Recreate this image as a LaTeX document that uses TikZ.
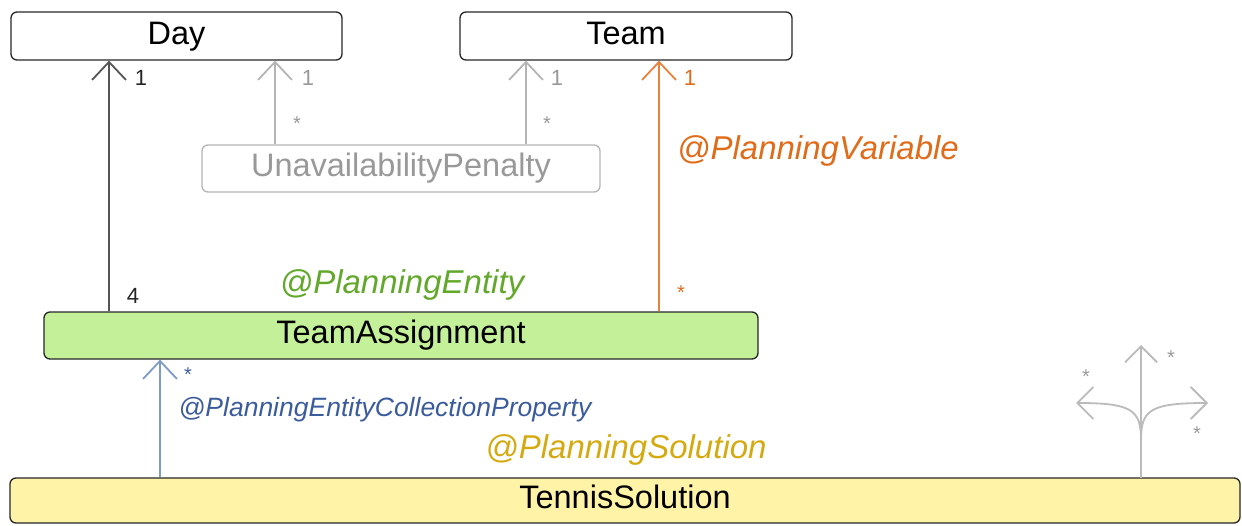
\documentclass[tikz,border=0pt]{standalone}
\usepackage{fontspec}
\setmainfont{Liberation Sans}
\usetikzlibrary{arrows.meta}
\definecolor{dayarrow}{HTML}{555555}
\definecolor{lightgr}{HTML}{B4B4B4}
\definecolor{penaltytxt}{HTML}{999999}
\definecolor{orangec}{HTML}{E8823C}
\definecolor{orangetxt}{HTML}{E06C1A}
\definecolor{greentxt}{HTML}{62A82A}
\definecolor{greenfill}{HTML}{C5F09A}
\definecolor{bluec}{HTML}{7E9CC8}
\definecolor{bluetxt}{HTML}{3B5C9C}
\definecolor{yellowtxt}{HTML}{D4AA10}
\definecolor{yellowfill}{HTML}{FFF3A8}
\definecolor{icongr}{HTML}{BBBBBB}
\tikzset{
  classbox/.style={draw=black!85, line width=1.3pt, rounded corners=6pt, inner sep=0pt,
    text height=23pt, text depth=7pt,
    font=\fontsize{32.5}{38}\selectfont},
  assoc/.style={line width=1.8pt, -{Straight Barb[length=18pt,width=34pt,line width=1.8pt]}},
  mult/.style={font=\fontsize{22}{26}\selectfont, inner sep=0pt},
  star/.style={font=\fontsize{20}{24}\selectfont, inner sep=0pt},
  annot/.style={font=\fontsize{33}{38}\selectfont\itshape, inner sep=0pt},
}
\begin{document}
\begin{tikzpicture}[x=1pt,y=-1pt]
\useasboundingbox (0,0) rectangle (1242,525);
% boxes
\node[classbox, minimum width=331pt, minimum height=48pt] (day) at (176.5,36) {Day};
\node[classbox, minimum width=332pt, minimum height=48pt] (team) at (626,36) {Team};
\node[classbox, draw=lightgr, text=penaltytxt, minimum width=398pt, minimum height=47pt] (pen) at (401,168.5) {UnavailabilityPenalty};
\node[classbox, fill=greenfill, minimum width=714pt, minimum height=47pt] (ta) at (401,335.5) {TeamAssignment};
\node[classbox, fill=yellowfill, minimum width=1230pt, minimum height=45pt] (sol) at (625,500.5) {TennisSolution};
% x positions
\coordinate (xa) at (109,0);
\coordinate (xb) at (275,0);
\coordinate (xc) at (526,0);
\coordinate (xd) at (659,0);
\coordinate (xe) at (160,0);
% arrows
\draw[assoc, draw=dayarrow] (xa |- ta.north) -- (xa |- day.south);
\draw[assoc, draw=lightgr] (xb |- pen.north) -- (xb |- day.south);
\draw[assoc, draw=lightgr] (xc |- pen.north) -- (xc |- team.south);
\draw[assoc, draw=orangec] (xd |- ta.north) -- (xd |- team.south);
\draw[assoc, draw=bluec] (xe |- sol.north) -- (xe |- ta.south);
% multiplicities
\node[mult, text=black!85] (m1) at (141,78) {1};
\node[mult, text=black!85] (m4) at (133,296) {4};
\node[mult, text=penaltytxt] (m2) at (308,78) {1};
\node[star, text=penaltytxt] (s2) at (297,124) {*};
\node[mult, text=penaltytxt] (m3) at (557,78) {1};
\node[star, text=penaltytxt] (s3) at (547,124) {*};
\node[mult, text=orangetxt] (m5) at (690,78) {1};
\node[star, text=orangetxt] (s5) at (681,293) {*};
\node[star, text=bluetxt] (s6) at (188,375) {*};
% annotations
\node[annot, text=orangetxt] (pv) at (818,151) {@PlanningVariable};
\node[annot, text=greentxt] (pe) at (402,285) {@PlanningEntity};
\node[annot, text=bluetxt, font=\fontsize{26.5}{30}\selectfont\itshape] (pecp) at (385,410) {@PlanningEntityCollectionProperty};
\node[annot, text=yellowtxt] (ps) at (626,450) {@PlanningSolution};
% icon
\coordinate (ib) at (1141,478);
\coordinate (it) at (1141,345);
\coordinate (il) at (1076,403);
\coordinate (ir) at (1208,403);
\coordinate (ij) at (1141,440);
\draw[icongr, line width=1.8pt, -{Straight Barb[length=16pt,width=32pt,line width=1.8pt]}] (ib) -- (it);
\draw[icongr, line width=1.8pt, -{Straight Barb[length=16pt,width=32pt,line width=1.8pt]}] (ij) .. controls (1141,410) and (1132,403) .. (il);
\draw[icongr, line width=1.8pt, -{Straight Barb[length=16pt,width=32pt,line width=1.8pt]}] (ij) .. controls (1141,410) and (1150,403) .. (ir);
\node[star, text=penaltytxt] (i1) at (1171,358) {*};
\node[star, text=penaltytxt] (i2) at (1086,377) {*};
\node[star, text=penaltytxt] (i3) at (1197,434) {*};
\end{tikzpicture}
\end{document}
